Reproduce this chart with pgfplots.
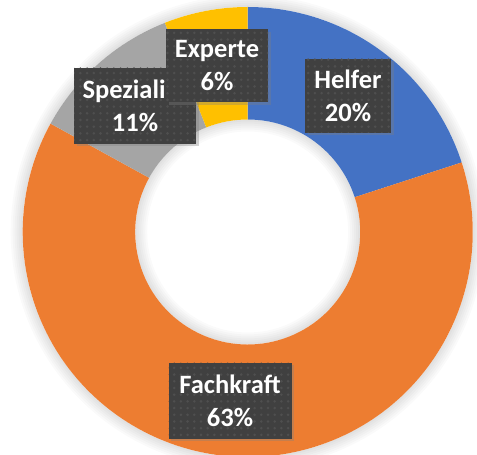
\documentclass[border=0pt]{standalone}
\usepackage{pgfplots}
\pgfplotsset{compat=1.18}
\usepackage{fontspec}
\setmainfont{Carlito}
\usetikzlibrary{calc,shadows,patterns.meta}

\definecolor{cHelfer}{HTML}{4472C4}
\definecolor{cFach}{HTML}{ED7D31}
\definecolor{cSpez}{HTML}{A5A5A5}
\definecolor{cExp}{HTML}{FFC000}
\definecolor{boxgray}{HTML}{404040}

% shares in percent
\def\vHelfer{20}
\def\vFach{63}
\def\vSpez{11}
\def\vExp{6}

% clockwise from 12 o'clock
\pgfmathsetmacro\aA{90}
\pgfmathsetmacro\aB{\aA-3.6*\vHelfer}
\pgfmathsetmacro\aC{\aB-3.6*\vFach}
\pgfmathsetmacro\aD{\aC-3.6*\vSpez}
\pgfmathsetmacro\aE{\aD-3.6*\vExp}

\def\Rout{225pt}
\def\Rin{112.5pt}

\newcommand\sector[3]{%
  \fill[#1] ($(C)+(#2:\Rout)$) arc[start angle=#2, end angle=#3, radius=\Rout]
    -- ($(C)+(#3:\Rin)$) arc[start angle=#3, end angle=#2, radius=\Rin] -- cycle;}

\tikzset{
    lab/.style={
        fill=boxgray, text=white, inner sep=0pt, align=center,
        font=\fontsize{26.5}{33}\selectfont\bfseries,
        drop shadow={shadow xshift=2.5pt, shadow yshift=-2.5pt, opacity=0.35},
        postaction={pattern={Dots[radius=1.4pt, distance=6.7pt]},
                    pattern color=boxgray!92!white}
    }
}

\begin{document}
\begin{tikzpicture}
\begin{axis}[
    x=1pt, y=1pt,
    xmin=0, xmax=477,
    ymin=0, ymax=455,
    hide axis,
    clip=true
]
\addplot[draw=none] coordinates {(0,0) (477,455)};
\coordinate (C) at (axis cs:247.7,223);

% soft shadow around the ring and inside the hole
\pgfplotsinvokeforeach{2,4,6,8,10,12}{
  \fill[black, opacity=0.018, even odd rule]
    (C) circle[radius=225pt+#1pt] (C) circle[radius=225pt];
  \fill[black, opacity=0.018, even odd rule]
    (C) circle[radius=112.5pt] (C) circle[radius=112.5pt-#1pt];
}

\sector{cHelfer}{\aA}{\aB}
\sector{cFach}{\aB}{\aC}
\sector{cSpez}{\aC}{\aD}
\sector{cExp}{\aD}{\aE}

\node[lab, minimum width=86pt, minimum height=74pt] at (axis cs:348,359) {Helfer\\20\%};
\node[lab, minimum width=122pt, minimum height=76pt] at (axis cs:135,349) {Speziali\hspace*{22pt}\\11\%};
\node[lab, minimum width=102pt, minimum height=73pt] at (axis cs:217,389) {Experte\\6\%};
\node[lab, minimum width=123pt, minimum height=76pt] at (axis cs:230,54) {Fachkraft\\63\%};
\end{axis}
\end{tikzpicture}
\end{document}
